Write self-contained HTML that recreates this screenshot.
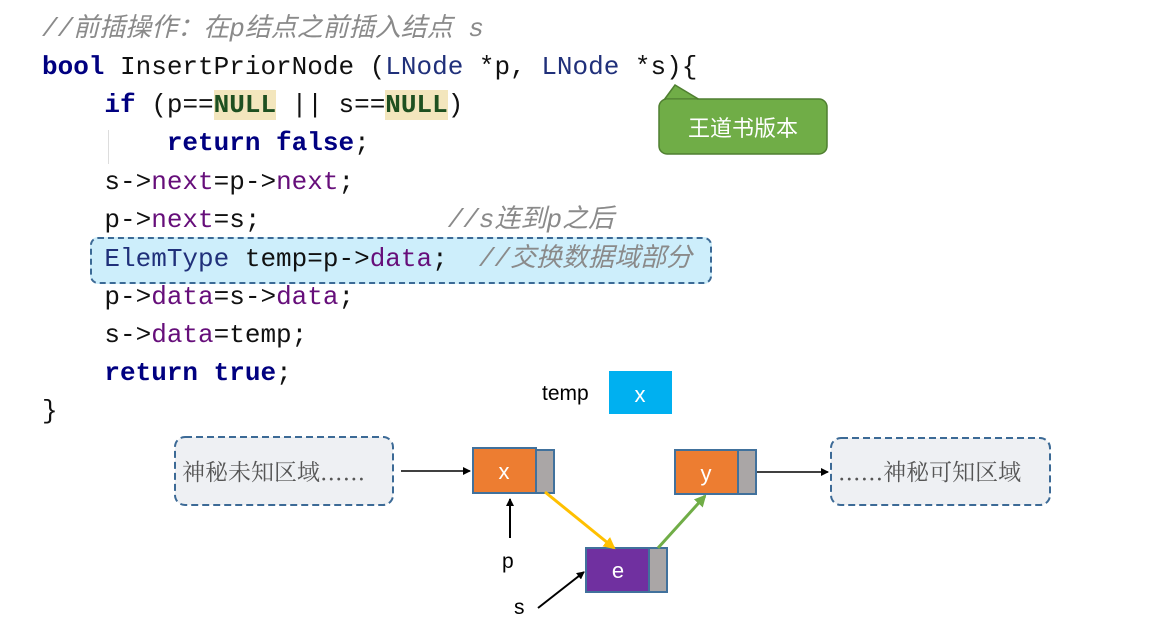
<!DOCTYPE html>
<html><head><meta charset="utf-8"><style>
body{margin:0;width:1176px;height:625px;background:#fff;position:relative;overflow:hidden;font-family:"Liberation Sans","Noto Sans CJK SC",sans-serif}
.c{position:absolute;left:42px;font-family:"Liberation Mono","Noto Sans CJK SC",monospace;font-size:26px;white-space:pre;color:#111;line-height:30px}
.k{color:#000080;font-weight:bold}
.t{color:#20307a}
.f{color:#660e7a}
.n{color:#1e5020;font-weight:bold;background:#f3e6bd}
.cm{color:#8a8a8a;font-style:italic}
.abs{position:absolute}
</style></head><body>
<div class="abs" style="left:90px;top:237px;width:618px;height:43px;background:#cdeefb;border:2px dashed #3c6a96;border-radius:8px"></div>
<div class="abs" style="left:108px;top:130px;width:1px;height:34px;background:#ddd"></div>
<div class="c" style="top:14px"><span class="cm">//前插操作：在p结点之前插入结点 s</span></div>
<div class="c" style="top:52px"><span class="k">bool</span> InsertPriorNode (<span class="t">LNode</span> *p, <span class="t">LNode</span> *s){</div>
<div class="c" style="top:90px">    <span class="k">if</span> (p==<span class="n">NULL</span> || s==<span class="n">NULL</span>)</div>
<div class="c" style="top:128px">        <span class="k">return false</span>;</div>
<div class="c" style="top:167px">    s-&gt;<span class="f">next</span>=p-&gt;<span class="f">next</span>;</div>
<div class="c" style="top:205px">    p-&gt;<span class="f">next</span>=s;            <span class="cm">//s连到p之后</span></div>
<div class="c" style="top:244px">    <span class="t">ElemType</span> temp=p-&gt;<span class="f">data</span>;  <span class="cm">//交换数据域部分</span></div>
<div class="c" style="top:282px">    p-&gt;<span class="f">data</span>=s-&gt;<span class="f">data</span>;</div>
<div class="c" style="top:320px">    s-&gt;<span class="f">data</span>=temp;</div>
<div class="c" style="top:358px">    <span class="k">return true</span>;</div>
<div class="c" style="top:396px">}</div>

<svg class="abs" style="left:0;top:0" width="1176" height="625">
<defs>
<marker id="a" markerWidth="8" markerHeight="8" refX="7" refY="4" orient="auto" markerUnits="userSpaceOnUse"><path d="M0,0L8,4L0,8z" fill="#000"/></marker>
<marker id="y" markerWidth="12" markerHeight="12" refX="10" refY="6" orient="auto" markerUnits="userSpaceOnUse"><path d="M0,0L12,6L0,12z" fill="#ffc000"/></marker>
<marker id="g" markerWidth="12" markerHeight="12" refX="10" refY="6" orient="auto" markerUnits="userSpaceOnUse"><path d="M0,0L12,6L0,12z" fill="#70ad47"/></marker>
</defs>
<path d="M664,100 L675,85 L700,100 Z" fill="#70ad47" stroke="#4f7f30" stroke-width="1.5"/>
<rect x="659" y="99" width="168" height="55" rx="8" fill="#70ad47" stroke="#4f7f30" stroke-width="1.5"/>
<path d="M666,101 L697,101" stroke="#70ad47" stroke-width="3"/>
<text x="743" y="136" font-size="22" fill="#fff" text-anchor="middle" font-family="Noto Sans CJK SC,sans-serif">王道书版本</text>
<text x="542" y="400" font-size="21" fill="#000">temp</text>
<rect x="609" y="371" width="63" height="43" fill="#00b0f0"/>
<text x="640" y="402" font-size="22" fill="#fff" text-anchor="middle">x</text>
<rect x="175" y="437" width="218" height="68" rx="10" fill="#eef0f3" stroke="#3c6a96" stroke-width="2" stroke-dasharray="7,4"/>
<text x="182" y="480" font-size="23" fill="#555" font-family="Noto Serif CJK SC,serif">神秘未知区域......</text>
<rect x="831" y="438" width="219" height="67" rx="10" fill="#eef0f3" stroke="#3c6a96" stroke-width="2" stroke-dasharray="7,4"/>
<text x="838" y="480" font-size="23" fill="#555" font-family="Noto Serif CJK SC,serif">......神秘可知区域</text>
<rect x="473" y="448" width="63" height="45" fill="#ed7d31" stroke="#41719c" stroke-width="2"/>
<rect x="536" y="450" width="18" height="43" fill="#aaa6a6" stroke="#41719c" stroke-width="2"/>
<text x="504" y="479" font-size="22" fill="#fff" text-anchor="middle">x</text>
<rect x="675" y="450" width="63" height="44" fill="#ed7d31" stroke="#41719c" stroke-width="2"/>
<rect x="738" y="450" width="18" height="44" fill="#aaa6a6" stroke="#41719c" stroke-width="2"/>
<text x="706" y="481" font-size="22" fill="#fff" text-anchor="middle">y</text>
<rect x="586" y="548" width="63" height="44" fill="#7030a0" stroke="#41719c" stroke-width="2"/>
<rect x="649" y="548" width="18" height="44" fill="#aaa6a6" stroke="#41719c" stroke-width="2"/>
<text x="618" y="578" font-size="22" fill="#fff" text-anchor="middle">e</text>
<line x1="401" y1="471" x2="470" y2="471" stroke="#000" stroke-width="1.5" marker-end="url(#a)"/>
<line x1="757" y1="472" x2="828" y2="472" stroke="#000" stroke-width="1.5" marker-end="url(#a)"/>
<line x1="510" y1="538" x2="510" y2="499" stroke="#000" stroke-width="2" marker-end="url(#a)"/>
<line x1="538" y1="608" x2="584" y2="572" stroke="#000" stroke-width="2" marker-end="url(#a)"/>
<line x1="545" y1="492" x2="614" y2="548" stroke="#ffc000" stroke-width="3" marker-end="url(#y)"/>
<line x1="658" y1="548" x2="705" y2="496" stroke="#70ad47" stroke-width="3" marker-end="url(#g)"/>
<text x="502" y="568" font-size="21" fill="#000">p</text>
<text x="514" y="614" font-size="21" fill="#000">s</text>
</svg>
</body></html>
